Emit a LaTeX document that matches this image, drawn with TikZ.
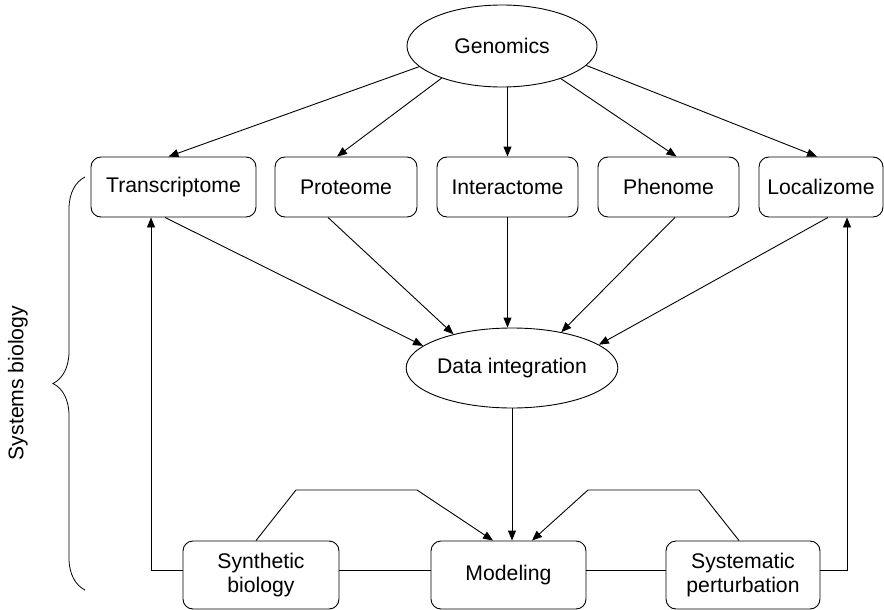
\documentclass[tikz,border=0pt]{standalone}
\usepackage{fontspec}
\setmainfont{Liberation Sans}
\usetikzlibrary{arrows.meta,shapes.geometric,decorations.pathreplacing}
\begin{document}
\begin{tikzpicture}[x=1pt,y=-1pt,
  every node/.style={font=\fontsize{21.2}{24.5}\selectfont, inner sep=0pt},
  oval/.style={draw, ellipse, line width=0.9pt},
  box/.style={draw, rounded corners=10pt, line width=0.9pt, align=center},
  rowbox/.style={box, minimum height=60pt},
  botbox/.style={box, minimum height=68pt},
  conn/.style={line width=0.9pt},
  arr/.style={conn, -{Triangle[length=10pt,width=8pt]}}]
\useasboundingbox (0,0) rectangle (884,610);

\node[oval, minimum width=190pt, minimum height=82pt] (gen) at (502,46) {Genomics};

\node[rowbox, minimum width=165pt] (tr) at (173.5,187) {Transcriptome};
\node[rowbox, minimum width=142pt] (pr) at (346,187) {Proteome};
\node[rowbox, minimum width=141pt] (in) at (507.5,187) {Interactome};
\node[rowbox, minimum width=141pt] (ph) at (668.5,187) {Phenome};
\node[rowbox, minimum width=124pt] (lo) at (821,187) {Localizome};

\node[oval, minimum width=193pt, minimum height=80pt] (di) at (512,368) {Data integration};

\node[botbox, minimum width=156pt] (sb) at (261,575) {Synthetic\\biology};
\node[botbox, minimum width=155pt] (mo) at (508.5,575) {Modeling};
\node[botbox, minimum width=154pt] (sp) at (743,575) {Systematic\\perturbation};

% Genomics -> omics
\draw[arr] (gen.194) -- ([xshift=-5pt]tr.north);
\draw[arr] (gen.208.5) -- ([xshift=-9pt]pr.north);
\draw[arr] (gen.south -| in.north) -- (in.north);
\draw[arr] (gen.331.6) -- ([xshift=8pt]ph.north);
\draw[arr] (gen.347.8) -- ([xshift=-4pt]lo.north);

% omics -> Data integration
\draw[arr] ([xshift=-8.5pt]tr.south) -- (di.166.8);
\draw[arr] ([xshift=-18pt]pr.south) -- (di.150.7);
\draw[arr] (in.south) -- (in.south |- di.north);
\draw[arr] ([xshift=6.5pt]ph.south) -- (di.36.7);
\draw[arr] ([xshift=7pt]lo.south) -- (di.15.8);

% Data integration -> Modeling
\draw[arr] (di.south) -- (di.south |- mo.north);

% bottom routes
\coordinate (bl1) at (296,490);
\coordinate (bl2) at (417,490);
\coordinate (br1) at (699,490);
\coordinate (br2) at (588,490);
\draw[arr] ([xshift=-5pt]sb.north) -- (bl1) -- (bl2) -- ([xshift=-15.5pt]mo.north);
\draw[arr] ([xshift=-4pt]sp.north) -- (br1) -- (br2) -- ([xshift=23.5pt]mo.north);

% horizontal line through bottom boxes
\coordinate (lc) at (151,570);
\coordinate (rc) at (847,570);
\draw[conn] ([yshift=5pt]sb.east) -- ([yshift=5pt]mo.west);
\draw[conn] ([yshift=5pt]mo.east) -- ([yshift=5pt]sp.west);
\draw[arr] ([yshift=5pt]sb.west) -- (lc) -- (lc |- tr.south);
\draw[arr] ([yshift=5pt]sp.east) -- (rc) -- (rc |- lo.south);

% brace and label
\coordinate (brb) at (85,590);
\coordinate (brt) at (85,177);
\draw[line width=0.8pt, decorate, decoration={brace, amplitude=32pt}] (brb) -- (brt);
\node[rotate=90] (sysb) at (18,383) {Systems biology};
\end{tikzpicture}
\end{document}
